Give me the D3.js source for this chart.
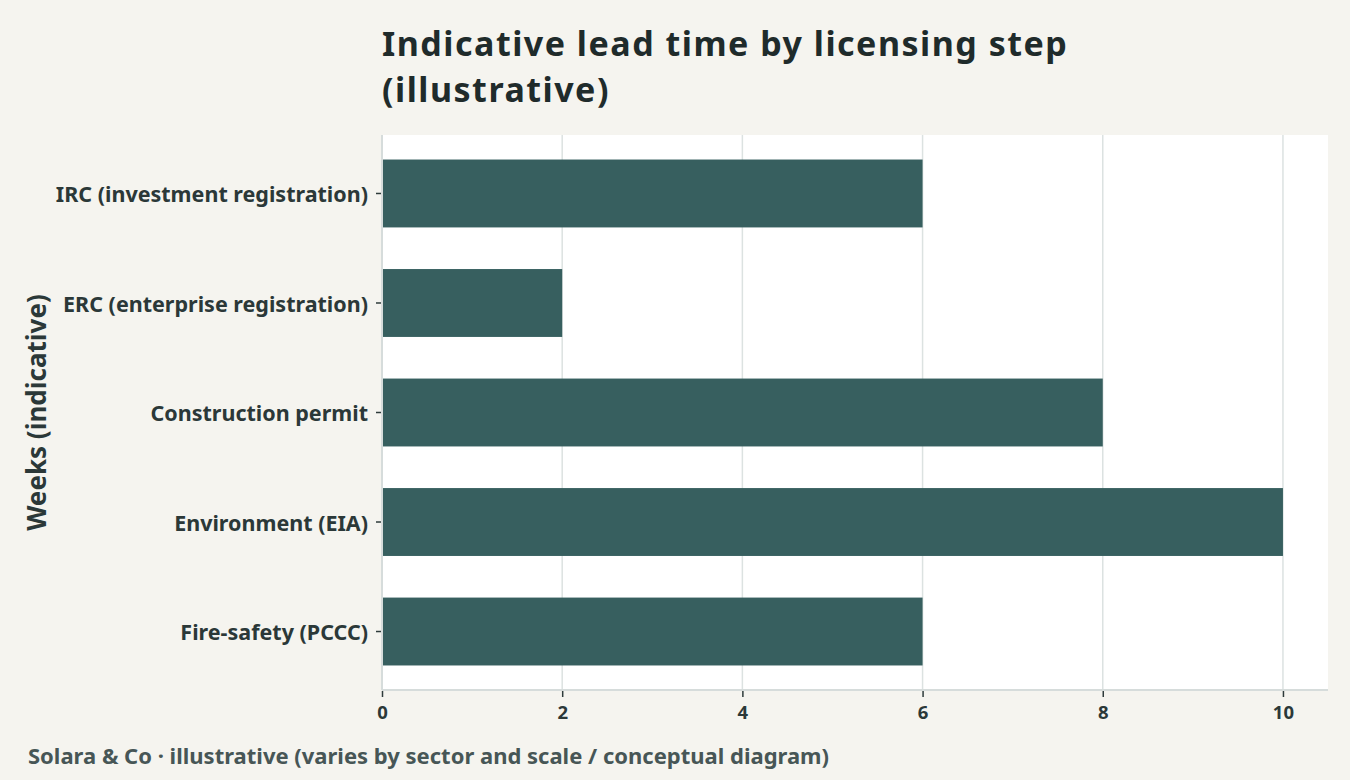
<!DOCTYPE html>
<html>
<head>
<meta charset="utf-8">
<script src="https://cdn.jsdelivr.net/npm/d3@7"></script>
<style>
  body { margin: 0; background: #f5f4ef; }
  svg text { font-family: "Noto Sans", sans-serif; }
</style>
</head>
<body>
<svg id="chart" width="1350" height="780"></svg>
<script>
var steps = ["IRC (investment registration)", "ERC (enterprise registration)", "Construction permit", "Environment (EIA)", "Fire-safety (PCCC)"];
var weeks = [6, 2, 8, 10, 6];
var xTicks = [0, 2, 4, 6, 8, 10];

var svg = d3.select("#chart"),
    margin = {top: 135, right: 22, bottom: 90, left: 382},
    width = svg.attr("width") - margin.left - margin.right,
    height = svg.attr("height") - margin.top - margin.bottom;

svg.append("rect").attr("width", 1350).attr("height", 780).attr("fill", "#f5f4ef");

var x = d3.scaleLinear().domain([0, 10.5]).range([0, width]);
var y = d3.scaleBand().domain(steps).range([0, height]).paddingInner(0.38).paddingOuter(0.224);

var g = svg.append("g")
    .attr("transform", "translate(" + margin.left + "," + margin.top + ")");

g.append("rect").attr("width", width).attr("height", height).attr("fill", "#ffffff");

// vertical grid
g.selectAll(".grid")
  .data(xTicks)
  .enter().append("line")
    .attr("x1", function(d) { return x(d); })
    .attr("x2", function(d) { return x(d); })
    .attr("y1", 0)
    .attr("y2", height)
    .attr("stroke", "#dce2e1")
    .attr("stroke-width", 1.5);

g.selectAll(".bar")
  .data(steps)
  .enter().append("rect")
    .attr("class", "bar")
    .attr("x", x(0))
    .attr("y", function(d) { return y(d); })
    .attr("width", function(d, i) { return x(weeks[i]) - x(0); })
    .attr("height", y.bandwidth())
    .attr("fill", "#375f5f");

// axis lines
g.append("line").attr("x1", 0).attr("x2", 0).attr("y1", 0).attr("y2", height)
  .attr("stroke", "#d6dcdb").attr("stroke-width", 2);
g.append("line").attr("x1", 0).attr("x2", width).attr("y1", height).attr("y2", height)
  .attr("stroke", "#d6dcdb").attr("stroke-width", 2);

var xAxis = g.append("g")
    .attr("transform", "translate(0," + (height + 1) + ")")
    .call(d3.axisBottom(x).tickValues(xTicks).tickSize(6).tickPadding(9));
xAxis.select(".domain").remove();
xAxis.selectAll("line").attr("stroke", "#2e3b3b").attr("stroke-width", 1.5);
xAxis.selectAll("text")
    .attr("fill", "#2b3838")
    .style("font-size", "18.5px")
    .style("font-weight", "bold");

var yAxis = g.append("g")
    .attr("transform", "translate(-1,0)")
    .call(d3.axisLeft(y).tickSize(5).tickPadding(8));
yAxis.select(".domain").remove();
yAxis.selectAll("line").attr("stroke", "#2e3b3b").attr("stroke-width", 1.5);
yAxis.selectAll("text")
    .attr("fill", "#2b3838")
    .attr("dy", "0.4em")
    .style("font-size", "21.5px")
    .style("font-weight", "bold");

// titles
svg.append("text")
    .attr("x", 382)
    .attr("y", 56)
    .attr("fill", "#1f2b2b")
    .style("font-size", "34px")
    .style("font-weight", "bold")
    .style("letter-spacing", "1.5px")
    .text("Indicative lead time by licensing step");
svg.append("text")
    .attr("x", 382)
    .attr("y", 102)
    .attr("fill", "#1f2b2b")
    .style("font-size", "34px")
    .style("font-weight", "bold")
    .style("letter-spacing", "1.5px")
    .text("(illustrative)");

svg.append("text")
    .attr("transform", "translate(46," + (margin.top + height / 2) + ") rotate(-90)")
    .attr("text-anchor", "middle")
    .attr("fill", "#2b3838")
    .style("font-size", "26px")
    .style("font-weight", "bold")
    .text("Weeks (indicative)");

svg.append("text")
    .attr("x", 28)
    .attr("y", 764)
    .attr("fill", "#475656")
    .style("font-size", "22px")
    .style("font-weight", "bold")
    .text("Solara & Co \u00b7 illustrative (varies by sector and scale / conceptual diagram)");
</script>
</body>
</html>
